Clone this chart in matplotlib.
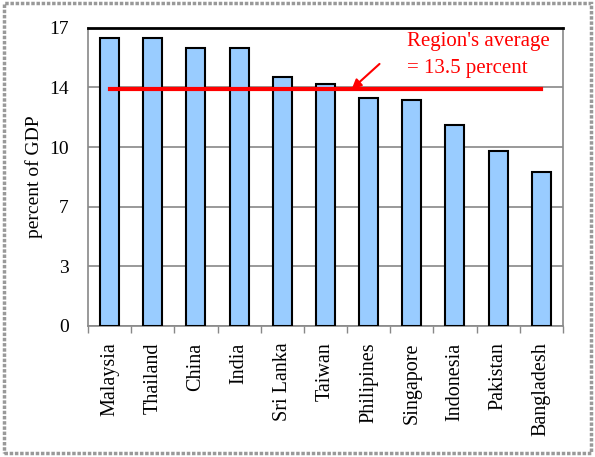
import matplotlib
matplotlib.use("Agg")
import matplotlib.pyplot as plt
import numpy as np
from matplotlib.patches import Rectangle

countries = ["Malaysia", "Thailand", "China", "India", "Sri Lanka", "Taiwan",
             "Philipines", "Singapore", "Indonesia", "Pakistan", "Bangladesh"]
values = [16.4, 16.4, 15.85, 15.85, 14.2, 13.8, 13.0, 12.9, 11.45, 10.0, 8.75]
average = 13.5
ytick_vals = [0, 3.4, 6.8, 10.2, 13.6, 17]
ytick_labels = ["0", "3", "7", "10", "14", "17"]

serif = "Liberation Serif"
fig = plt.figure(figsize=(5.95, 4.57), dpi=100)
fig.patches.append(Rectangle((0.006, 0.008), 0.987, 0.985, transform=fig.transFigure,
                             fill=False, edgecolor="#999999", linewidth=2.5, linestyle=(0, (1, 0.5))))
ax = fig.add_axes([0.148, 0.287, 0.798, 0.652])

x = np.arange(len(countries))
ax.bar(x, values, width=0.44, color="#99CCFF", edgecolor="black", linewidth=1.5, zorder=3)

ax.set_xlim(-0.5, len(countries) - 0.5)
ax.set_ylim(0, 17)
ax.set_yticks(ytick_vals)
ax.set_yticklabels(ytick_labels, fontfamily=serif, fontsize=14)
ax.yaxis.grid(True, color="#888888", linewidth=1.2, zorder=0)
ax.tick_params(axis="y", length=0, pad=14)

ax.set_xticks(x)
ax.set_xticklabels(countries, rotation=90, fontfamily=serif, fontsize=14.5)
ax.set_xticks(np.arange(-0.5, len(countries)), minor=True)
ax.tick_params(axis="x", which="major", length=0, pad=12)
ax.tick_params(axis="x", which="minor", length=5, color="#888888", width=1)

for s in ["left", "bottom", "right"]:
    ax.spines[s].set_color("#888888")
    ax.spines[s].set_linewidth(1.2)
ax.spines["top"].set_color("black")
ax.spines["top"].set_linewidth(2)

ax.set_ylabel("percent of GDP", fontfamily=serif, fontsize=14, labelpad=4)

ax.plot([x[0], x[-1]], [average, average], color="red", linewidth=3, zorder=4)
ax.annotate("", xy=(5.56, average - 0.1), xytext=(6.3, 15.05),
            arrowprops=dict(arrowstyle="-|>", color="red", lw=1.5, mutation_scale=14), zorder=5)
ax.text(6.9, 15.45, "Region's average\n= 13.5 percent", color="red", fontfamily=serif,
        fontsize=15, ha="left", va="center", linespacing=1.55, zorder=6)

fig.savefig("out.png", dpi=100)
